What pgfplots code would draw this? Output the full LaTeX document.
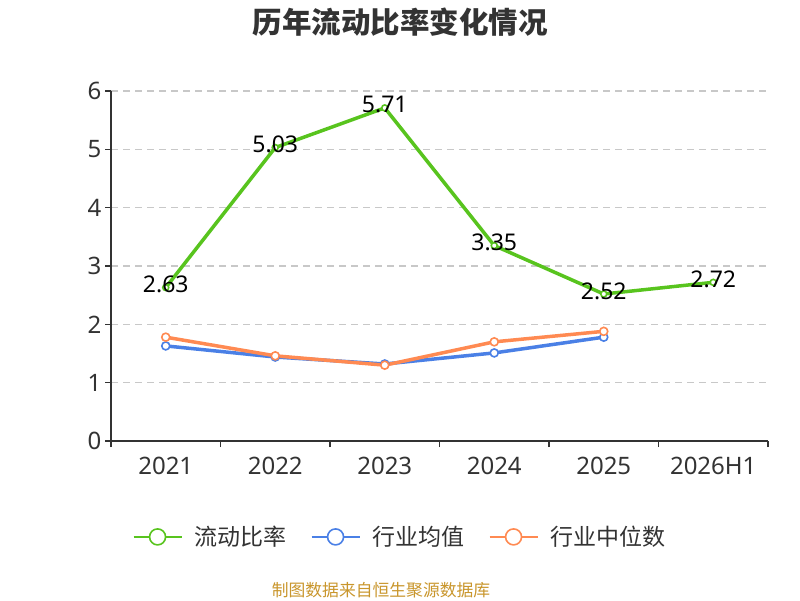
\documentclass[border=0pt]{standalone}
\usepackage{fontspec}
\setmainfont{Noto Sans}
\newfontfamily\cjk{Noto Sans CJK SC}
\usepackage{pgfplots}
\pgfplotsset{compat=1.18}
\definecolor{cgreen}{RGB}{88,196,30}
\definecolor{cblue}{RGB}{74,128,230}
\definecolor{corange}{RGB}{255,138,82}
\definecolor{cdark}{RGB}{51,51,51}
\definecolor{cgrid}{RGB}{200,200,200}
\definecolor{csrc}{RGB}{201,150,44}
\begin{document}
\begin{tikzpicture}
\useasboundingbox (0pt,0pt) rectangle (800pt,600pt);
\fill[white] (0pt,0pt) rectangle (800pt,600pt);
\node[font=\cjk\bfseries\fontsize{29.5}{34}\selectfont, text=cdark] at (400pt,578pt) {历年流动比率变化情况};
\node[font=\cjk\fontsize{16.8}{20}\selectfont, text=csrc] at (381pt,10pt) {制图数据来自恒生聚源数据库};
\begin{axis}[
  at={(111pt,159pt)}, anchor=south west,
  scale only axis, width=657pt, height=350pt,
  xmin=-0.5, xmax=5.5, ymin=0, ymax=6,
  clip=false,
  axis x line*=bottom, axis y line*=left,
  axis line style={cdark, line width=1.6pt},
  xtick={0,1,2,3,4,5},
  xticklabels={2021,2022,2023,2024,2025,2026H1},
  minor xtick={-0.5,0.5,1.5,2.5,3.5,4.5,5.5},
  major x tick style={draw=none},
  minor x tick style={cdark, line width=1.6pt},
  ytick={0,1,2,3,4,5,6},
  y tick style={cdark, line width=1.6pt},
  tick align=outside,
  major tick length=6pt, minor tick length=6pt,
  ymajorgrids,
  grid style={cgrid, line width=1.5pt, dash pattern=on 7pt off 5pt},
  /pgf/number format/assume math mode=true,
  tick label style={font=\fontsize{24}{28}\selectfont, text=cdark},
  x tick label style={yshift=-7pt},
  legend style={at={(0.44,-0.274)}, anchor=center, draw=none, fill=none,
    font=\cjk\fontsize{23}{27}\selectfont, text=cdark,
    /tikz/every odd column/.append style={column sep=10pt},
    /tikz/every even column/.append style={column sep=22pt}},
  legend columns=3,
  legend image code/.code={
    \draw[#1, line width=2pt] (0pt,0pt) -- (48pt,0pt);
    \draw[#1, line width=1.6pt, fill=white] (24pt,0pt) circle (8pt);
  },
]
\addplot[cgreen, line width=3.5pt, mark=*, mark size=3pt,
  mark options={fill=white, line width=1.6pt},
  nodes near coords={\pgfmathprintnumber[fixed,fixed zerofill,precision=2]{\pgfplotspointmeta}},
  every node near coord/.style={anchor=center, yshift=3pt, text=black, font=\fontsize{23}{27}\selectfont}]
  coordinates {(0,2.63) (1,5.03) (2,5.71) (3,3.35) (4,2.52) (5,2.72)};
\addlegendentry{流动比率}
\addplot[cblue, line width=3.5pt, mark=*, mark size=4pt,
  mark options={fill=white, line width=1.6pt}]
  coordinates {(0,1.63) (1,1.44) (2,1.32) (3,1.51) (4,1.78)};
\addlegendentry{行业均值}
\addplot[corange, line width=3.5pt, mark=*, mark size=4pt,
  mark options={fill=white, line width=1.6pt}]
  coordinates {(0,1.78) (1,1.46) (2,1.30) (3,1.70) (4,1.88)};
\addlegendentry{行业中位数}
\end{axis}
\end{tikzpicture}
\end{document}
